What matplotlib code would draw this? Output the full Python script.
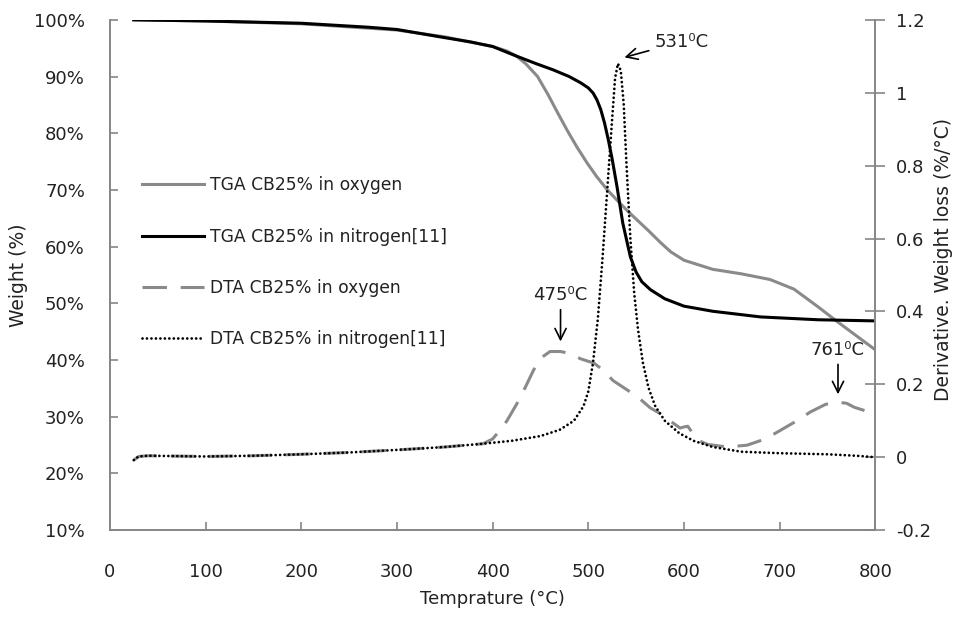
import numpy as np
import matplotlib
matplotlib.use('Agg')
import matplotlib.pyplot as plt
from matplotlib.ticker import FuncFormatter

plt.rcParams['font.family'] = ['DejaVu Sans']

# TGA in oxygen (weight %)
t_tga_o = [25, 100, 200, 300, 350, 400, 415, 425, 435, 447, 458, 468, 478, 488, 499,
           509, 520, 530, 541, 551, 563, 575, 586, 600, 630, 660, 690, 715, 740, 760,
           780, 800]
w_tga_o = [100, 99.8, 99.3, 98.2, 97.0, 95.3, 94.5, 93.6, 92.2, 90.0, 86.8, 83.6, 80.5,
           77.6, 74.7, 72.3, 70.0, 68.2, 66.3, 64.7, 62.8, 60.8, 59.1, 57.6, 56.0, 55.2,
           54.2, 52.5, 49.4, 46.8, 44.3, 41.8]

# TGA in nitrogen (weight %)
t_tga_n = [25, 100, 200, 270, 300, 345, 377, 400, 422, 445, 463, 480, 492, 500, 505,
           509, 513, 517, 521, 525, 530, 536, 544, 550, 556, 565, 580, 600, 630, 680,
           740, 800]
w_tga_n = [100, 99.8, 99.4, 98.7, 98.3, 97.0, 96.1, 95.3, 93.8, 92.3, 91.2, 90.0, 88.9,
           88.0, 87.1, 85.9, 84.2, 81.8, 78.8, 75.4, 70.6, 64.2, 58.2, 55.5, 53.8, 52.4,
           50.8, 49.5, 48.6, 47.6, 47.1, 46.9]

# DTA in oxygen (%/°C)
t_dta_o = [25, 30, 40, 100, 150, 200, 250, 300, 350, 390, 400, 408, 415, 425, 432, 443,
           452, 460, 471, 480, 492, 506, 515, 526, 541, 554, 565, 575, 588, 596, 600,
           604, 608, 614, 625, 645, 666, 685, 701, 718, 732, 748, 760, 770, 778, 790, 800]
d_dta_o = [-0.008, 0.002, 0.004, 0.002, 0.004, 0.008, 0.013, 0.02, 0.028, 0.037, 0.05,
           0.075, 0.10, 0.145, 0.18, 0.24, 0.275, 0.29, 0.29, 0.285, 0.27, 0.258, 0.24,
           0.21, 0.184, 0.16, 0.135, 0.12, 0.095, 0.08, 0.083, 0.085, 0.07, 0.047, 0.035,
           0.028, 0.033, 0.05, 0.074, 0.10, 0.124, 0.145, 0.151, 0.148, 0.137, 0.127, 0.12]

# DTA in nitrogen (%/°C)
t_dta_n = [25, 30, 40, 100, 150, 200, 250, 300, 350, 390, 420, 450, 470, 485, 495, 500,
           505, 510, 515, 520, 525, 528, 531, 534, 537, 540, 544, 548, 552, 557, 563,
           570, 580, 595, 610, 630, 660, 700, 750, 780, 800]
d_dta_n = [-0.008, 0.002, 0.004, 0.002, 0.004, 0.008, 0.013, 0.02, 0.028, 0.037, 0.045,
           0.058, 0.075, 0.10, 0.14, 0.18, 0.26, 0.38, 0.55, 0.74, 0.93, 1.04, 1.08, 1.06,
           0.97, 0.80, 0.60, 0.45, 0.35, 0.26, 0.19, 0.14, 0.10, 0.066, 0.045, 0.028,
           0.015, 0.011, 0.008, 0.004, 0.0]

grey = '#8a8a8a'
axis_col = '#868686'
txt = '#222222'
fs = 13

fig, ax = plt.subplots(figsize=(9.64, 6.2), dpi=100)
fig.subplots_adjust(left=0.114, right=0.908, top=0.968, bottom=0.145)
ax2 = ax.twinx()

l1, = ax.plot(t_tga_o, w_tga_o, color=grey, lw=2.2, label='TGA CB25% in oxygen')
l2, = ax.plot(t_tga_n, w_tga_n, color='black', lw=2.2, label='TGA CB25% in nitrogen[11]')
l3, = ax2.plot(t_dta_o, d_dta_o, color=grey, lw=2.2, dashes=(8, 4.5),
               label='DTA CB25% in oxygen')
l4, = ax2.plot(t_dta_n, d_dta_n, color='black', lw=2.0, linestyle=(0, (0.01, 1.6)),
               dash_capstyle='round', label='DTA CB25% in nitrogen[11]')

ax.set_xlim(0, 800)
ax.set_ylim(10, 100)
ax.set_xticks(np.arange(0, 801, 100))
ax.set_yticks(np.arange(10, 101, 10))
ax.yaxis.set_major_formatter(FuncFormatter(lambda v, p: f'{v:.0f}%'))
ax2.set_ylim(-0.2, 1.2)
ax2.set_yticks(np.arange(-0.2, 1.21, 0.2))
ax2.yaxis.set_major_formatter(FuncFormatter(lambda v, p: f'{v:.1f}'.rstrip('0').rstrip('.') if abs(v) > 1e-9 else '0'))

for a in (ax, ax2):
    a.spines['top'].set_visible(False)
    for s in ('left', 'right', 'bottom'):
        a.spines[s].set_color(axis_col)
        a.spines[s].set_linewidth(1.2)

ax.tick_params(axis='x', direction='in', length=6, width=1.2, color=axis_col,
               pad=24, labelsize=fs, labelcolor=txt)
ax.tick_params(axis='y', direction='in', length=6, width=1.2, color=axis_col,
               pad=18, labelsize=fs, labelcolor=txt)
ax2.tick_params(axis='y', direction='inout', length=14, width=1.2, color=axis_col,
                pad=8, labelsize=fs, labelcolor=txt)

ax.set_xlabel('Temprature (°C)', fontsize=fs, color=txt, labelpad=6)
ax.set_ylabel('Weight (%)', fontsize=13.5, color=txt, labelpad=4)
ax2.set_ylabel('Derivative. Weight loss (%/°C)', fontsize=13.5, color=txt)
ax2.yaxis.set_label_coords(1.077, 0.53)

arrow = dict(arrowstyle='->', color='black', lw=1.2, mutation_scale=20)
ax2.annotate('475⁰C', xy=(471, 0.31), xytext=(471, 0.42), ha='center', va='bottom',
             fontsize=fs, color=txt, arrowprops=arrow)
ax2.annotate('531⁰C', xy=(535, 1.095), xytext=(569, 1.14), ha='left', va='center',
             fontsize=fs, color=txt, arrowprops=arrow)
ax2.annotate('761⁰C', xy=(761, 0.165), xytext=(761, 0.27), ha='center', va='bottom',
             fontsize=fs, color=txt, arrowprops=arrow)

leg = ax2.legend(handles=[l1, l2, l3, l4], loc='upper left', bbox_to_anchor=(0.031, 0.71),
                 frameon=False, fontsize=12.3, labelspacing=1.95, handlelength=3.6,
                 handletextpad=0.35, borderpad=0)
for t in leg.get_texts():
    t.set_color(txt)

fig.savefig('out.png', dpi=100)
